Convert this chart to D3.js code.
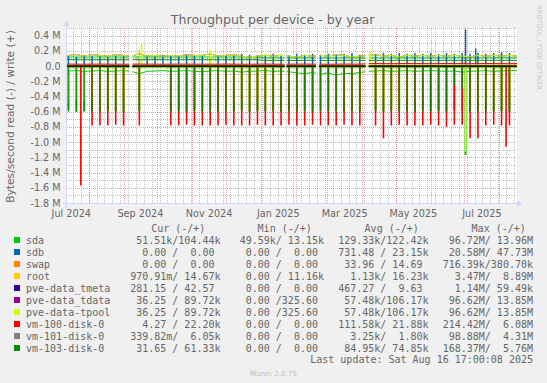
<!DOCTYPE html>
<html>
<head>
<meta charset="utf-8">
<script src="https://cdn.jsdelivr.net/npm/d3@7/dist/d3.min.js"></script>
<style>
body { margin: 0; background: #F0F0F0; }
svg { display: block; font-family: "DejaVu Sans", sans-serif; }
.mono { font-family: "DejaVu Sans Mono", monospace; font-size: 10px; fill: #666; white-space: pre; }
</style>
</head>
<body>
<svg id="chart"></svg>
<script>
// weekly samples (the backup spikes land on these sundays)
const weeks = ["2024-07-12T17:00","2024-07-14","2024-07-21","2024-07-28","2024-08-04","2024-08-11","2024-08-18","2024-08-25","2024-09-01","2024-09-08",
  "2024-09-15","2024-09-22","2024-09-29","2024-10-06","2024-10-13","2024-10-20","2024-10-27","2024-11-03","2024-11-10","2024-11-17",
  "2024-11-24","2024-12-01","2024-12-08","2024-12-15","2024-12-22","2024-12-29","2025-01-05","2025-01-12","2025-01-19","2025-01-26",
  "2025-02-02","2025-02-09","2025-02-16","2025-02-23","2025-03-02","2025-03-09","2025-03-16","2025-03-23","2025-03-30","2025-04-06",
  "2025-04-13","2025-04-20","2025-04-27","2025-05-04","2025-05-11","2025-05-18","2025-05-25","2025-06-01","2025-06-08","2025-06-15",
  "2025-06-22","2025-06-29","2025-07-06","2025-07-13","2025-07-20","2025-07-27","2025-08-03","2025-08-10","2025-08-16T17:00"];
// series that stay near zero only need the two ends
const quietDates = ["2024-07-12T17:00","2025-08-16T17:00"];
// unknown data (no line drawn)
const gaps = [["2024-09-06","2024-09-09"],["2025-01-22","2025-01-24"],["2025-02-19","2025-02-22"],["2025-04-04","2025-04-07"]];

// values in MB/s, read is negative
const sdaRead = [-0.06,-0.065,-0.06,-0.07,-0.065,-0.06,-0.07,-0.065,-0.06,-0.07,
  -0.1,-0.07,-0.065,-0.06,-0.07,-0.065,-0.06,-0.07,-0.075,-0.065,
  -0.06,-0.07,-0.065,-0.08,-0.07,-0.065,-0.06,-0.07,-0.065,-0.075,
  -0.09,-0.1,-0.085,-0.11,-0.09,-0.12,-0.095,-0.1,-0.085,-0.07,
  -0.065,-0.06,-0.07,-0.065,-0.06,-0.07,-0.065,-0.06,-0.065,-0.07,
  -0.065,-0.08,-0.07,-0.065,-0.06,-0.07,-0.065,-0.06,-0.06];
const sdaWrite = [0.118,0.119,0.118,0.117,0.118,0.119,0.118,0.118,0.117,0.118,
  0.12,0.118,0.118,0.119,0.118,0.117,0.118,0.118,0.119,0.118,
  0.118,0.117,0.118,0.118,0.119,0.118,0.108,0.109,0.108,0.108,
  0.107,0.108,0.109,0.108,0.108,0.107,0.108,0.109,0.108,0.108,
  0.108,0.107,0.108,0.108,0.109,0.108,0.108,0.107,0.108,0.108,
  0.109,0.108,0.108,0.107,0.108,0.108,0.109,0.108,0.108];
const sdaReadSpike = [null,-0.58,-0.6,-0.59,-0.58,-0.6,-0.58,-0.59,-0.6,null,
  -0.58,null,null,null,-0.59,-0.58,-0.6,-0.58,-0.59,-0.58,
  -0.6,-0.58,-0.59,-0.58,-0.6,-0.58,-0.59,-0.58,-0.6,-0.58,
  -0.59,-0.58,-0.6,-0.58,-0.59,-0.58,-0.6,-0.58,-0.59,null,
  -0.58,-0.6,-0.58,-0.59,-0.58,-0.6,-0.58,-0.59,-0.58,-0.6,
  -0.58,-0.59,-0.58,-0.6,-0.58,-0.59,-0.58,-0.6,null];

const sdbRead = [0, 0];
const sdbWrite = [0.003, 0.003];
const sdbWriteSpike = [null,0.13,0.12,0.14,0.13,0.13,0.12,0.14,0.13,null,
  0.13,0.14,0.13,0.15,0.14,0.13,0.15,0.14,0.14,0.15,
  0.14,0.15,0.14,0.16,0.15,0.14,0.15,0.16,0.15,0.14,
  0.16,0.15,0.16,0.15,0.16,0.15,0.16,0.17,0.15,null,
  0.16,0.17,0.16,0.17,0.16,0.17,0.16,0.17,0.16,0.17,
  0.16,0.17,0.16,0.17,0.16,0.17,0.18,0.17,null];

const swapRead = [0, 0];
const swapWrite = [0.001, 0.001];
const rootRead = [-0.001, -0.001];
const rootWrite = [0.015, 0.016];
const tmetaRead = [0, 0];
const tmetaWrite = [0, 0];

// tdata and tpool are identical in the legend, so they share values
const tpoolRead = [-0.02, -0.02];
const tpoolWrite = [0.13,0.14,0.15,0.13,0.15,0.14,0.13,0.15,0.14,0.13,
  0.16,0.13,0.14,0.13,0.14,0.13,0.15,0.14,0.14,0.16,
  0.13,0.14,0.15,0.13,0.12,0.13,0.14,0.13,0.14,0.13,
  0.12,0.14,0.13,0.14,0.13,0.15,0.14,0.12,0.13,0.14,
  0.15,0.13,0.14,0.12,0.14,0.13,0.14,0.13,0.14,0.13,
  0.14,0.13,0.12,0.14,0.13,0.14,0.13,0.14,0.13];
const tpoolReadSpike = [null,-0.45,-0.45,-0.45,-0.45,-0.45,-0.45,-0.45,-0.45,null,
  -0.45,null,null,null,-0.45,-0.45,-0.45,-0.45,-0.45,-0.45,
  -0.45,-0.45,-0.45,-0.45,-0.45,-0.45,-0.45,-0.45,-0.45,-0.45,
  -0.45,-0.45,-0.45,-0.45,-0.45,-0.45,-0.45,-0.45,-0.45,null,
  -0.45,-0.45,-0.45,-0.45,-0.45,-0.45,-0.45,-0.45,-0.45,-0.45,
  -0.2,-0.3,-0.45,-0.45,-0.45,-0.45,-0.45,-0.45,null];

const vm100Read = [-0.004, -0.004];
const vm100Write = [0.025,0.026,0.025,0.024,0.025,0.026,0.025,0.025,0.024,0.025,
  0.026,0.025,0.025,0.024,0.025,0.026,0.025,0.025,0.024,0.025,
  0.025,0.026,0.025,0.024,0.025,0.025,0.026,0.025,0.024,0.025,
  0.025,0.026,0.025,0.025,0.024,0.025,0.026,0.025,0.025,0.032,
  0.033,0.032,0.031,0.032,0.033,0.032,0.032,0.031,0.032,0.033,
  0.032,0.032,0.031,0.032,0.033,0.032,0.032,0.031,0.032];
const vm100ReadSpike = [null,null,null,null,-0.78,-0.78,-0.78,-0.77,-0.78,null,
  -0.78,null,null,null,-0.78,-0.78,-0.77,-0.78,-0.78,-0.78,
  -0.78,-0.77,-0.78,-0.78,-0.78,-0.77,-0.78,-0.78,-0.78,-0.77,
  -0.78,-0.78,-0.77,-0.78,-0.78,-0.78,-0.77,-0.78,-0.78,null,
  -0.78,-0.95,-0.78,-0.77,-0.78,-0.78,-0.78,-0.77,-0.78,-0.8,
  -0.77,-0.77,-0.95,-0.95,-0.78,-0.77,-0.78,-0.78,null];

const vm101Read = [-0.003, -0.003];
const vm101Write = [0.002, 0.002];

const vm103Read = [-0.01,-0.012,-0.01,-0.011,-0.01,-0.009,-0.01,-0.012,-0.01,-0.01,
  -0.011,-0.01,-0.009,-0.01,-0.012,-0.01,-0.01,-0.011,-0.01,-0.009,
  -0.01,-0.012,-0.01,-0.01,-0.011,-0.01,-0.009,-0.01,-0.012,-0.01,
  -0.01,-0.011,-0.01,-0.009,-0.01,-0.012,-0.01,-0.01,-0.011,-0.01,
  -0.009,-0.01,-0.012,-0.01,-0.01,-0.011,-0.01,-0.009,-0.01,-0.012,
  -0.01,-0.01,-0.011,-0.01,-0.009,-0.01,-0.012,-0.01,-0.01];
const vm103Write = [0.083,0.084,0.083,0.082,0.083,0.083,0.084,0.083,0.082,0.083,
  0.083,0.083,0.084,0.083,0.082,0.083,0.083,0.084,0.083,0.083,
  0.082,0.083,0.083,0.084,0.083,0.083,0.075,0.076,0.075,0.074,
  0.075,0.075,0.076,0.075,0.074,0.075,0.075,0.076,0.075,0.075,
  0.074,0.075,0.075,0.076,0.075,0.075,0.074,0.075,0.075,0.076,
  0.075,0.075,0.074,0.075,0.075,0.076,0.075,0.075,0.075];
const vm103ReadSpike = [null,-0.6,-0.6,-0.6,-0.6,-0.6,-0.6,-0.6,-0.6,null,
  -0.6,null,null,null,-0.6,-0.6,-0.6,-0.6,-0.6,-0.6,
  -0.6,-0.6,-0.6,-0.6,-0.6,-0.6,-0.6,-0.6,-0.6,-0.6,
  -0.6,-0.6,-0.6,-0.6,-0.6,-0.6,-0.6,-0.6,-0.6,null,
  -0.6,-0.6,-0.6,-0.6,-0.6,-0.6,-0.6,-0.6,-0.6,-0.6,
  -0.25,-0.3,-0.6,-0.6,-0.6,-0.6,-0.6,-0.6,null];

// one-off peaks outside the weekly pattern
const extraDates = ["2024-07-25","2024-09-15","2024-09-17","2024-11-17","2025-04-08","2025-06-22","2025-07-02","2025-07-11","2025-08-07"];
const vm100ReadExtra = [-1.57,null,null,null,null,null,null,null,-1.06];
const sdaReadExtra = [null,null,null,null,null,null,-1.17,null,null];
const tpoolReadExtra = [null,null,null,null,null,null,-1.12,null,null];
const swapReadExtra = [null,null,null,null,null,-0.26,null,null,null];
const sdbWriteExtra = [null,null,null,null,null,null,0.48,0.23,null];
const tpoolWriteExtra = [null,null,0.29,0.2,0.19,null,null,null,null];
const rootWriteExtra = [null,0.22,null,null,null,null,null,null,null];

// legend
const names = ["sda","sdb","swap","root","pve-data_tmeta","pve-data_tdata","pve-data-tpool","vm-100-disk-0","vm-101-disk-0","vm-103-disk-0"];
const colors = ["#00CC00","#0066B3","#FF8000","#FFCC00","#330099","#990099","#CCFF00","#FF0000","#808080","#008F00"];
const curText = [" 51.51k/104.44k","  0.00 /  0.00 ","  0.00 /  0.00 ","970.91m/ 14.67k","281.15 / 42.57 "," 36.25 / 89.72k"," 36.25 / 89.72k","  4.27 / 22.20k","339.82m/  6.05k"," 31.65 / 61.33k"];
const minText = [" 49.59k/ 13.15k","  0.00 /  0.00 ","  0.00 /  0.00 ","  0.00 / 11.16k","  0.00 /  0.00 ","  0.00 /325.60 ","  0.00 /325.60 ","  0.00 /  0.00 ","  0.00 /  0.00 ","  0.00 /  0.00 "];
const avgText = ["129.33k/122.42k","731.48 / 23.15k"," 33.96 / 14.69 ","  1.13k/ 16.23k","467.27 /  9.63 "," 57.48k/106.17k"," 57.48k/106.17k","111.58k/ 21.88k","  3.25k/  1.80k"," 84.95k/ 74.85k"];
const maxText = [" 96.72M/ 13.96M"," 20.58M/ 47.73M","716.39k/380.70k","  3.47M/  8.89M","  1.14M/ 59.49k"," 96.62M/ 13.85M"," 96.62M/ 13.85M","214.42M/  6.08M"," 98.88M/  4.31M","168.37M/  5.76M"];

const yTicks = [0.4,0.2,0,-0.2,-0.4,-0.6,-0.8,-1.0,-1.2,-1.4,-1.6,-1.8];
const yTickLabels = ["0.4 M","0.2 M","0.0","-0.2 M","-0.4 M","-0.6 M","-0.8 M","-1.0 M","-1.2 M","-1.4 M","-1.6 M","-1.8 M"];
const xLabelMonths = ["2024-07","2024-09","2024-11","2025-01","2025-03","2025-05","2025-07"];
const xLabels = ["Jul 2024","Sep 2024","Nov 2024","Jan 2025","Mar 2025","May 2025","Jul 2025"];


const parseDay = s => new Date(s.length > 10 ? s : (s.length === 7 ? s + "-01T00:00" : s + "T00:00"));

class ThroughputChart {

    constructor(_config, _data) {
        this.config = {
            parentElement: _config.parentElement,
            containerWidth: _config.containerWidth || 547,
            containerHeight: _config.containerHeight || 383,
            plot: {left: 67, top: 28, width: 450, height: 175}
        }
        this.data = _data;
        this.initVis();
    }

    initVis() {
        let vis = this;
        const p = vis.config.plot;

        vis.svg = d3.select(vis.config.parentElement)
            .attr('width', vis.config.containerWidth)
            .attr('height', vis.config.containerHeight);

        vis.svg.append('rect')
            .attr('width', vis.config.containerWidth)
            .attr('height', vis.config.containerHeight)
            .attr('fill', '#F0F0F0');

        vis.start = parseDay("2024-07-12T17:00");
        vis.end = parseDay("2025-08-16T17:00");

        vis.xScale = d3.scaleTime()
            .domain([vis.start, vis.end])
            .range([p.left, p.left + p.width]);
        vis.yScale = d3.scaleLinear()
            .domain([-1.8, 0.5])
            .range([p.top + p.height, p.top]);

        // canvas
        vis.svg.append('rect')
            .attr('x', p.left).attr('y', p.top)
            .attr('width', p.width).attr('height', p.height)
            .attr('fill', '#fff');

        vis.drawGrid();
        vis.renderVis();
        vis.drawAxes();
        vis.drawText();
        vis.drawLegend();
    }

    drawGrid() {
        let vis = this;
        const p = vis.config.plot;
        const g = vis.svg.append('g').attr('shape-rendering', 'crispEdges');
        const snap = v => Math.round(v) + 0.5;

        // minor horizontal every 0.1M
        const minorY = d3.range(-18, 6).map(d => d / 10).filter(v => Math.abs(Math.round(v * 10)) % 2 === 1);
        g.selectAll('.hminor').data(minorY).join('line')
            .attr('x1', p.left).attr('x2', p.left + p.width)
            .attr('y1', d => snap(vis.yScale(d))).attr('y2', d => snap(vis.yScale(d)))
            .attr('stroke', 'rgba(143,143,143,0.55)').attr('stroke-dasharray', '1,1');

        // minor vertical, weekly
        g.selectAll('.vminor').data(d3.timeThursday.range(vis.start, vis.end)).join('line')
            .attr('x1', d => snap(vis.xScale(d))).attr('x2', d => snap(vis.xScale(d)))
            .attr('y1', p.top).attr('y2', p.top + p.height)
            .attr('stroke', 'rgba(143,143,143,0.55)').attr('stroke-dasharray', '1,1');

        g.selectAll('.hmajor').data(yTicks).join('line')
            .attr('x1', p.left).attr('x2', p.left + p.width)
            .attr('y1', d => snap(vis.yScale(d))).attr('y2', d => snap(vis.yScale(d)))
            .attr('stroke', 'rgba(233,80,80,0.55)').attr('stroke-dasharray', '1,1');

        g.selectAll('.vmajor').data(d3.timeMonth.range(vis.start, vis.end)).join('line')
            .attr('x1', d => snap(vis.xScale(d))).attr('x2', d => snap(vis.xScale(d)))
            .attr('y1', p.top).attr('y2', p.top + p.height)
            .attr('stroke', 'rgba(233,80,80,0.55)').attr('stroke-dasharray', '1,1');
    }

    renderVis() {
        let vis = this;
        const p = vis.config.plot;

        // clip out the unknown periods
        const bounds = [p.left];
        gaps.forEach(gp => { bounds.push(vis.xScale(parseDay(gp[0]))); bounds.push(vis.xScale(parseDay(gp[1]))); });
        bounds.push(p.left + p.width);
        const clip = vis.svg.append('clipPath').attr('id', 'known');
        for (let i = 0; i < bounds.length; i += 2) {
            clip.append('rect')
                .attr('x', bounds[i]).attr('y', p.top)
                .attr('width', bounds[i + 1] - bounds[i]).attr('height', p.height);
        }

        const chart = vis.svg.append('g').attr('clip-path', 'url(#known)');
        const line = d3.line()
            .x(d => vis.xScale(d.date))
            .y(d => vis.yScale(d.value));
        const weekDates = weeks.map(parseDay);
        const xDates = extraDates.map(parseDay);

        vis.data.forEach(s => {
            [[s.readDates, s.read], [s.writeDates, s.write]].forEach(([ds, vals]) => {
                const dates = ds.map(parseDay);
                chart.append('path')
                    .datum(vals.map((v, i) => ({date: dates[i], value: v})))
                    .attr('fill', 'none')
                    .attr('stroke', s.color)
                    .attr('stroke-width', 1)
                    .attr('d', line);
            });

            // spikes drawn as sticks out from the zero line
            const sticks = [];
            [s.readSpike, s.writeSpike].forEach(sp => {
                if (!sp) return;
                sp.forEach((v, i) => { if (v !== null) sticks.push({date: weekDates[i], value: v}); });
            });
            [s.readExtra, s.writeExtra].forEach(ex => {
                if (!ex) return;
                ex.forEach((v, i) => { if (v !== null) sticks.push({date: xDates[i], value: v}); });
            });

            chart.append('g').selectAll('line').data(sticks).join('line')
                .attr('x1', d => vis.xScale(d.date)).attr('x2', d => vis.xScale(d.date))
                .attr('y1', vis.yScale(0)).attr('y2', d => vis.yScale(d.value))
                .attr('stroke', s.color)
                .attr('stroke-width', s.spikeWidth)
                .attr('opacity', s.spikeOpacity);
        });

        // zero line
        chart.append('line')
            .attr('x1', p.left).attr('x2', p.left + p.width)
            .attr('y1', vis.yScale(0)).attr('y2', vis.yScale(0))
            .attr('stroke', '#000').attr('stroke-width', 1.2);
    }

    drawAxes() {
        let vis = this;
        const p = vis.config.plot;
        const axisColor = '#CFD6F8';
        const bottom = p.top + p.height + 0.5;
        const left = p.left - 0.5;

        vis.svg.append('line')
            .attr('x1', p.left - 4).attr('x2', p.left + p.width + 1)
            .attr('y1', bottom).attr('y2', bottom)
            .attr('stroke', axisColor);
        vis.svg.append('line')
            .attr('x1', left).attr('x2', left)
            .attr('y1', bottom + 4).attr('y2', p.top - 2)
            .attr('stroke', axisColor);
        vis.svg.append('path')
            .attr('d', `M${p.left + p.width},${bottom - 3}L${p.left + p.width + 6},${bottom}L${p.left + p.width},${bottom + 3}Z`)
            .attr('fill', axisColor);
        vis.svg.append('path')
            .attr('d', `M${left - 3},${p.top - 2}L${left},${p.top - 8}L${left + 3},${p.top - 2}Z`)
            .attr('fill', axisColor);

        // y labels
        vis.svg.append('g').selectAll('text').data(yTicks).join('text')
            .attr('x', p.left - 6.5)
            .attr('y', d => vis.yScale(d))
            .attr('text-anchor', 'end')
            .attr('dominant-baseline', 'central')
            .attr('font-size', '9.6px')
            .attr('fill', '#666')
            .text((d, i) => yTickLabels[i]);

        // month labels sit in the middle of their month
        vis.svg.append('g').selectAll('text').data(xLabelMonths).join('text')
            .attr('x', d => {
                const m = parseDay(d);
                return (vis.xScale(m) + vis.xScale(d3.timeMonth.offset(m, 1))) / 2;
            })
            .attr('y', 213.8)
            .attr('text-anchor', 'middle')
            .attr('dominant-baseline', 'central')
            .attr('font-size', '9.7px')
            .attr('fill', '#666')
            .text((d, i) => xLabels[i]);
    }

    drawText() {
        let vis = this;
        vis.svg.append('text')
            .attr('x', 272.6).attr('y', 19.8)
            .attr('text-anchor', 'middle')
            .attr('dominant-baseline', 'central')
            .attr('font-size', '12.6px')
            .attr('fill', '#666')
            .text('Throughput per device - by year');

        vis.svg.append('text')
            .attr('transform', 'translate(10.5,116.5) rotate(-90)')
            .attr('text-anchor', 'middle')
            .attr('dominant-baseline', 'central')
            .attr('font-size', '10.7px')
            .attr('fill', '#666')
            .text('Bytes/second read (-) / write (+)');

        vis.svg.append('text')
            .attr('transform', 'translate(538.5,5) rotate(90)')
            .attr('dominant-baseline', 'central')
            .attr('font-size', '6.6px')
            .attr('fill', '#c6c6c6')
            .text('RRDTOOL / TOBI OETIKER');
    }

    drawLegend() {
        let vis = this;
        const g = vis.svg.append('g');
        const rowY = i => 240 + i * 12;

        const heads = [["Cur (-/+)", 151.2], ["Min (-/+)", 257.6], ["Avg (-/+)", 364.6], ["Max (-/+)", 471.6]];
        heads.forEach(h => {
            g.append('text').attr('class', 'mono')
                .attr('x', h[1]).attr('y', 228)
                .attr('dominant-baseline', 'central')
                .text(h[0]);
        });

        const cols = [[curText, 130.2], [minText, 233.7], [avgText, 338.2], [maxText, 442.7]];
        names.forEach((n, i) => {
            g.append('rect')
                .attr('x', 14).attr('y', rowY(i) - 3)
                .attr('width', 6).attr('height', 6)
                .attr('fill', colors[i]);
            g.append('text').attr('class', 'mono')
                .attr('x', 26).attr('y', rowY(i))
                .attr('dominant-baseline', 'central')
                .text(n);
            cols.forEach(c => {
                g.append('text').attr('class', 'mono')
                    .attr('x', c[1]).attr('y', rowY(i))
                    .attr('dominant-baseline', 'central')
                    .text(c[0][i]);
            });
        });

        g.append('text').attr('class', 'mono')
            .attr('x', 533).attr('y', 359.5)
            .attr('text-anchor', 'end')
            .attr('dominant-baseline', 'central')
            .text('Last update: Sat Aug 16 17:00:08 2025');

        g.append('text')
            .attr('x', 273.5).attr('y', 373)
            .attr('text-anchor', 'middle')
            .attr('dominant-baseline', 'central')
            .attr('font-size', '7.2px')
            .attr('fill', '#bbb')
            .text('Munin 2.0.75');
    }
}

// draw order follows the legend
const seriesData = [
    {color: colors[0], readDates: weeks, read: sdaRead, writeDates: weeks, write: sdaWrite, readSpike: sdaReadSpike, readExtra: sdaReadExtra, spikeWidth: 2, spikeOpacity: 1},
    {color: colors[1], readDates: quietDates, read: sdbRead, writeDates: quietDates, write: sdbWrite, writeSpike: sdbWriteSpike, writeExtra: sdbWriteExtra, spikeWidth: 1.5, spikeOpacity: 1},
    {color: colors[2], readDates: quietDates, read: swapRead, writeDates: quietDates, write: swapWrite, readExtra: swapReadExtra, spikeWidth: 1.5, spikeOpacity: 1},
    {color: colors[3], readDates: quietDates, read: rootRead, writeDates: quietDates, write: rootWrite, writeExtra: rootWriteExtra, spikeWidth: 1.4, spikeOpacity: 1},
    {color: colors[4], readDates: quietDates, read: tmetaRead, writeDates: quietDates, write: tmetaWrite, spikeWidth: 1, spikeOpacity: 1},
    {color: colors[5], readDates: quietDates, read: tpoolRead, writeDates: weeks, write: tpoolWrite, spikeWidth: 1, spikeOpacity: 1},
    {color: colors[6], readDates: quietDates, read: tpoolRead, writeDates: weeks, write: tpoolWrite, readSpike: tpoolReadSpike, readExtra: tpoolReadExtra, writeExtra: tpoolWriteExtra, spikeWidth: 1.6, spikeOpacity: 1},
    {color: colors[7], readDates: quietDates, read: vm100Read, writeDates: weeks, write: vm100Write, readSpike: vm100ReadSpike, readExtra: vm100ReadExtra, spikeWidth: 1.6, spikeOpacity: 1},
    {color: colors[8], readDates: quietDates, read: vm101Read, writeDates: quietDates, write: vm101Write, spikeWidth: 1, spikeOpacity: 1},
    {color: colors[9], readDates: weeks, read: vm103Read, writeDates: weeks, write: vm103Write, readSpike: vm103ReadSpike, spikeWidth: 1.4, spikeOpacity: 0.85}
];

new ThroughputChart({parentElement: '#chart'}, seriesData);
</script>
</body>
</html>
